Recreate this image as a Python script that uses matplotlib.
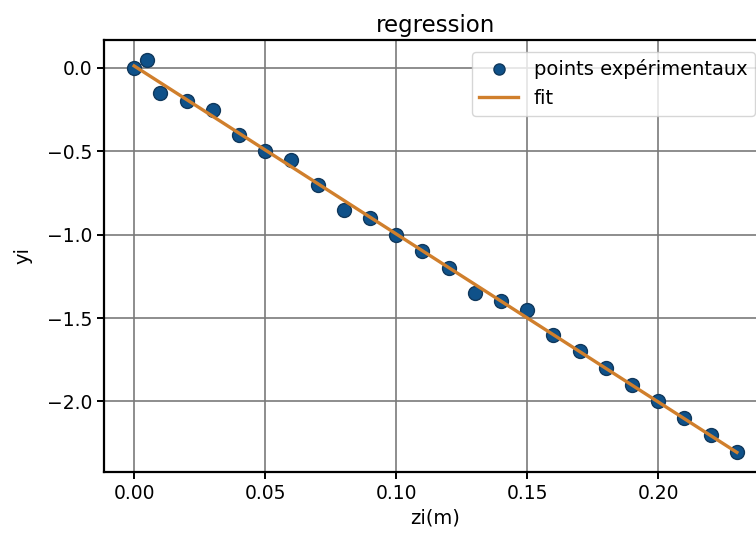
import numpy as np
import matplotlib
matplotlib.use("Agg")
import matplotlib.pyplot as plt

zi = [0.0, 0.005, 0.01, 0.02, 0.03, 0.04, 0.05, 0.06, 0.07, 0.08, 0.09, 0.10,
      0.11, 0.12, 0.13, 0.14, 0.15, 0.16, 0.17, 0.18, 0.19, 0.20, 0.21, 0.22, 0.23]
yi = [0.0, 0.05, -0.15, -0.2, -0.25, -0.4, -0.5, -0.55, -0.7, -0.85, -0.9, -1.0,
      -1.1, -1.2, -1.35, -1.4, -1.45, -1.6, -1.7, -1.8, -1.9, -2.0, -2.1, -2.2, -2.3]

zi_arr = np.array(zi)
yi_arr = np.array(yi)
coef = np.polyfit(zi_arr, yi_arr, 1)
fit = np.polyval(coef, zi_arr)

plt.rcParams['font.family'] = ['DejaVu Sans']
fig = plt.figure(figsize=(7.56, 5.38), dpi=100)
ax = fig.add_axes([104/756, 1 - 472/538, (767 - 104)/756, (472 - 40)/538])

ax.plot(zi_arr, yi_arr, 'o', color='#0f5189', markeredgecolor='#10385c',
        markersize=10, label='points expérimentaux', zorder=3)
ax.plot(zi_arr, fit, '-', color='#d07f2c', linewidth=2.4, label='fit', zorder=4)

ax.set_xticks([0.0, 0.05, 0.10, 0.15, 0.20])
ax.set_yticks([0.0, -0.5, -1.0, -1.5, -2.0])
ax.tick_params(labelsize=13.5, width=1.4, length=5)
ax.grid(True, color='#7a7a7a', linewidth=1.2)
for s in ax.spines.values():
    s.set_linewidth(1.6)
ax.set_title('regression', fontsize=16.5)
ax.set_xlabel('zi(m)', fontsize=14)
ax.set_ylabel('yi', fontsize=14, labelpad=10)
ax.legend(loc='upper right', fontsize=14, handlelength=2.0, borderaxespad=0.6,
          markerscale=0.8)

fig.savefig('out.png', dpi=100)
